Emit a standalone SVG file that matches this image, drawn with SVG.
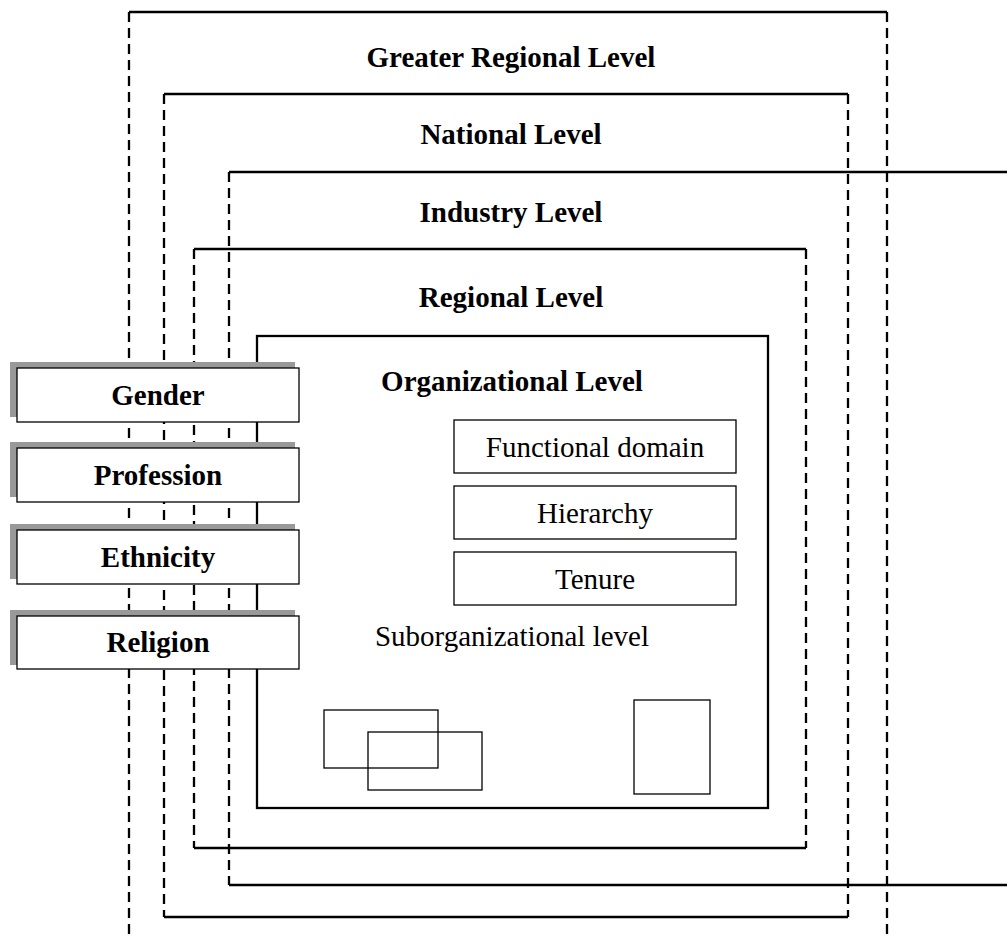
<svg xmlns="http://www.w3.org/2000/svg" width="1007" height="943" viewBox="0 0 1007 943">
<style>
.solid{fill:none;stroke:#000;stroke-width:2.3}
.dash{fill:none;stroke:#000;stroke-width:2.3;stroke-dasharray:10 6}
.thin{fill:#fff;stroke:#000;stroke-width:1.3}
.sub{fill:none;stroke:#000;stroke-width:1.3}
.shadow{fill:#999;stroke:none}
.lbl{font-family:"Liberation Serif","Times New Roman",serif;font-size:29px;font-weight:bold;text-anchor:middle;fill:#000}
.reg{font-family:"Liberation Serif","Times New Roman",serif;font-size:29px;text-anchor:middle;fill:#000}
</style>
<rect width="1007" height="943" fill="#fff"/>
<g id="greater-regional">
<path class="solid" d="M129 12H887"/>
<path class="dash" d="M129 12V937M887 12V937"/>
<text class="lbl" x="511" y="67">Greater Regional Level</text>
</g>
<g id="national">
<path class="solid" d="M164 94H848M164 917H848"/>
<path class="dash" d="M164 94V917M848 94V917"/>
<text class="lbl" x="511" y="144">National Level</text>
</g>
<g id="industry">
<path class="solid" d="M229 172H1007M229 885H1007"/>
<path class="dash" d="M229 172V885"/>
<text class="lbl" x="511" y="222">Industry Level</text>
</g>
<g id="regional">
<path class="solid" d="M194 249H806M194 848H806"/>
<path class="dash" d="M194 249V848M806 249V848"/>
<text class="lbl" x="511" y="307">Regional Level</text>
</g>
<g id="organizational">
<rect class="solid" x="257" y="336" width="511" height="472"/>
<text class="lbl" x="512" y="391">Organizational Level</text>
</g>
<g id="functional-domain">
<rect class="thin" x="454" y="420" width="282" height="53"/>
<text class="reg" x="595" y="457">Functional domain</text>
</g>
<g id="hierarchy">
<rect class="thin" x="454" y="486" width="282" height="53"/>
<text class="reg" x="595" y="523">Hierarchy</text>
</g>
<g id="tenure">
<rect class="thin" x="454" y="552" width="282" height="53"/>
<text class="reg" x="595" y="589">Tenure</text>
</g>
<g id="suborganizational">
<text class="reg" x="512" y="646">Suborganizational level</text>
<rect class="sub" x="324" y="710" width="114" height="58"/>
<rect class="sub" x="368" y="732" width="114" height="58"/>
<rect class="sub" x="634" y="700" width="76" height="94"/>
</g>
<g id="gender">
<rect class="shadow" x="10" y="362" width="285" height="55"/>
<rect class="thin" x="17" y="368" width="282" height="54"/>
<text class="lbl" x="158" y="405">Gender</text>
</g>
<g id="profession">
<rect class="shadow" x="10" y="442" width="285" height="55"/>
<rect class="thin" x="17" y="448" width="282" height="54"/>
<text class="lbl" x="158" y="485">Profession</text>
</g>
<g id="ethnicity">
<rect class="shadow" x="10" y="524" width="285" height="55"/>
<rect class="thin" x="17" y="530" width="282" height="54"/>
<text class="lbl" x="158" y="567">Ethnicity</text>
</g>
<g id="religion">
<rect class="shadow" x="10" y="610" width="285" height="55"/>
<rect class="thin" x="17" y="616" width="282" height="53"/>
<text class="lbl" x="158" y="652">Religion</text>
</g>
<g id="connectors"></g>
</svg>
